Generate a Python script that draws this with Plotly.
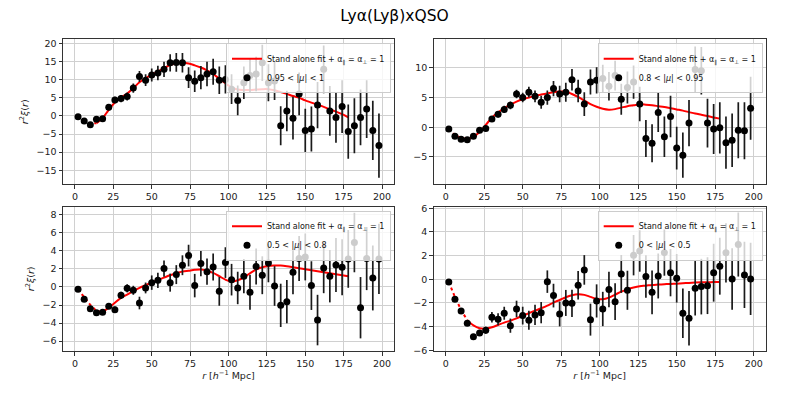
import plotly.graph_objects as go

R_DATA = list(range(2, 200, 4))
R_FIT = list(range(2, 180, 4))

# 0.95 < |mu| < 1
XI_MU1 = [-0.2, -1.4, -2.4, -0.9, -0.8, 2.4, 4.4, 4.8, 5.4, 7.7,
          10.9, 9.9, 11.3, 11.9, 12.9, 14.7, 14.8, 14.7, 10.6, 9.6,
          10.6, 11.6, 12.2, 9.9, 10.1, 7.4, 4.3, 9.2, 11.2, 11.6,
          14.7, 9.2, 9.7, -2.7, 1.4, -0.6, 6.1, -4.0, -3.6, 3.0,
          12.9, 1.4, -0.4, 2.6, -4.3, -2.7, -0.4, 1.9, -4.0, -8.2]
ERR_MU1 = [0.3, 0.4, 0.5, 0.6, 0.7, 0.8, 0.9, 1.0, 1.1, 1.3,
           1.5, 1.6, 1.8, 2.0, 2.1, 2.4, 2.6, 2.7, 2.9, 3.0,
           3.2, 3.4, 3.6, 3.8, 3.9, 4.1, 4.1, 4.5, 4.6, 4.8,
           5.0, 5.1, 5.3, 5.4, 5.6, 5.9, 5.9, 6.0, 6.2, 6.4,
           6.6, 6.9, 7.0, 7.3, 7.5, 7.6, 7.7, 8.0, 8.2, 8.9]
FIT_MU1 = [-0.2, -1.2, -2.1, -2.0, -0.6, 1.7, 3.7, 5.1, 6.2, 7.7,
           9.3, 10.4, 11.4, 12.3, 13.2, 14.1, 14.6, 14.7, 14.5, 14.0,
           13.4, 12.6, 11.6, 10.3, 9.0, 7.9, 7.3, 7.2, 7.2, 7.3,
           7.4, 7.4, 7.1, 6.6, 6.1, 5.5, 5.0, 4.3, 3.7, 3.1,
           2.5, 1.8, 1.2, 0.5, -0.4]

# 0.8 < |mu| < 0.95
XI_MU2 = [-0.3, -1.5, -2.0, -2.1, -1.5, -0.5, -0.2, 1.4, 2.2, 3.0,
          3.7, 5.6, 5.0, 5.9, 5.2, 4.2, 5.0, 6.5, 5.6, 5.9,
          8.0, 6.1, 3.9, 7.6, 7.9, 8.2, 6.9, 8.7, 4.7, 6.7,
          7.6, 3.9, -1.9, -2.7, 2.5, -1.6, 1.8, -3.5, -4.7, 0.7,
          9.7, 9.5, 0.7, -0.3, -0.1, -2.6, -2.2, -0.5, -0.6, 3.2]
ERR_MU2 = [0.15, 0.2, 0.25, 0.3, 0.35, 0.4, 0.45, 0.5, 0.55, 0.6,
           0.65, 0.7, 0.8, 0.9, 1.0, 1.1, 1.2, 1.3, 1.4, 1.6,
           1.8, 1.9, 2.0, 2.1, 2.2, 2.3, 2.4, 2.5, 2.6, 2.7,
           2.8, 2.9, 3.1, 3.2, 3.3, 3.4, 3.5, 3.6, 3.8, 3.9,
           3.9, 4.0, 4.1, 4.2, 4.3, 4.4, 4.5, 4.7, 4.8, 5.3]
FIT_MU2 = [-0.3, -1.3, -1.8, -2.0, -1.6, -0.8, 0.4, 1.6, 2.5, 3.2,
           3.8, 4.3, 4.7, 5.0, 5.3, 5.5, 5.7, 5.9, 6.0, 6.0,
           5.6, 5.1, 4.5, 3.9, 3.45, 3.1, 2.95, 3.05, 3.3, 3.55,
           3.7, 3.85, 3.8, 3.7, 3.55, 3.4, 3.2, 3.0, 2.8, 2.55,
           2.3, 2.1, 1.9, 1.65, 1.45]

# 0.5 < |mu| < 0.8
XI_MU3 = [-0.26, -1.37, -2.41, -2.85, -2.81, -2.15, -2.52, -0.93, -0.15, -0.37,
          -1.78, -0.11, 0.48, 0.74, 2.04, 0.48, 1.37, 2.41, 3.48, 0.15,
          2.6, 1.7, 2.22, -0.48, 2.7, 0.81, -0.11, 1.19, -0.59, 2.26,
          1.3, 2.67, 0.11, -2.04, -1.63, 1.63, 3.15, 3.33, 0.15, -3.67,
          2.11, 1.19, 2.44, 2.19, 3.11, 4.93, -2.3, 3.15, 1.0, 3.11]
ERR_MU3 = [0.1, 0.15, 0.2, 0.2, 0.25, 0.3, 0.35, 0.4, 0.45, 0.5,
           0.7, 0.6, 0.8, 0.85, 0.9, 1.0, 1.05, 1.1, 1.2, 1.3,
           1.4, 1.45, 1.5, 1.6, 1.7, 1.75, 1.8, 1.9, 1.95, 2.0,
           2.1, 2.15, 2.2, 2.4, 2.4, 2.45, 2.5, 2.6, 2.7, 2.8,
           2.8, 2.9, 3.0, 3.1, 3.2, 3.3, 3.4, 3.5, 3.6, 3.9]
FIT_MU3 = [-0.26, -1.1, -2.0, -2.65, -2.7, -2.3, -1.75, -1.2, -0.85, -0.44,
           -0.1, 0.2, 0.5, 0.78, 1.04, 1.3, 1.52, 1.7, 1.8, 1.9,
           1.93, 1.8, 1.56, 1.19, 0.81, 0.6, 0.74, 1.07, 1.52, 1.93,
           2.19, 2.33, 2.37, 2.37, 2.3, 2.19, 2.07, 1.96, 1.85, 1.74,
           1.63, 1.52, 1.41, 1.3, 1.19]

# 0 < |mu| < 0.5
XI_MU4 = [-0.23, -1.69, -2.68, -3.72, -4.85, -4.54, -4.31, -3.21, -3.38, -2.87,
          -3.92, -2.51, -3.07, -3.46, -3.01, -2.82, -0.2, -1.38, -2.93, -2.0,
          -2.03, -0.51, 0.79, -3.41, -1.83, -2.51, -0.87, -1.89, 0.45, -0.93,
          2.03, 2.39, 0.23, -1.1, 0.28, 2.25, 0.56, 0.08, -2.87, -3.3,
          -0.76, -0.62, -0.54, 0.56, 1.1, 2.23, 0.03, 2.93, 0.37, 0.03]
ERR_MU4 = [0.1, 0.12, 0.15, 0.18, 0.2, 0.25, 0.3, 0.45, 0.5, 0.55,
           0.6, 0.7, 0.75, 0.8, 0.85, 0.9, 0.95, 1.0, 1.05, 1.1,
           1.15, 1.2, 1.25, 1.35, 1.4, 1.45, 1.5, 1.55, 1.6, 1.65,
           1.7, 1.75, 1.8, 1.85, 1.9, 1.95, 2.0, 2.05, 2.1, 2.3,
           2.3, 2.35, 2.4, 2.45, 2.4, 2.5, 2.6, 2.7, 2.8, 3.05]
FIT_MU4 = [-0.23, -1.5, -2.6, -3.45, -3.9, -4.14, -4.17, -4.06, -3.86, -3.66,
           -3.5, -3.3, -3.07, -2.87, -2.65, -2.45, -2.23, -1.97, -1.75, -1.52,
           -1.35, -1.27, -1.32, -1.49, -1.66, -1.69, -1.55, -1.3, -1.04, -0.85,
           -0.7, -0.59, -0.54, -0.48, -0.45, -0.42, -0.39, -0.37, -0.34, -0.31,
           -0.28, -0.26, -0.25, -0.24, -0.23]

MU_LABELS = [
    "0.95 &lt; |<i>μ</i>| &lt; 1",
    "0.8 &lt; |<i>μ</i>| &lt; 0.95",
    "0.5 &lt; |<i>μ</i>| &lt; 0.8",
    "0 &lt; |<i>μ</i>| &lt; 0.5",
]
Y_RANGES = [[-18.9, 21.2], [-9.6, 14.8], [-7.1, 8.9], [-6.06, 6.13]]
Y_DTICKS = [5, 5, 2, 2]

FIT_LABEL = "Stand alone fit + α<sub>∥</sub> = α<sub>⊥</sub> = 1"
TITLE = "Lyα(Lyβ)xQSO"
X_TITLE = "<i>r</i> [<i>h</i><sup>−1</sup> Mpc]"
Y_TITLE = "<i>r</i><sup>2</sup><i>ξ</i>(<i>r</i>)"

W, H = 789, 395
FONT = "DejaVu Sans"
X_DOMAINS = [[63 / W, 394 / W], [433.7 / W, 765.7 / W]]
Y_DOMAINS = [[1 - 184.3 / H, 1 - 39.3 / H], [1 - 351 / H, 1 - 206.7 / H]]
DOT_END = 4  # first points of the model are drawn dotted

panels = [
    (XI_MU1, ERR_MU1, FIT_MU1),
    (XI_MU2, ERR_MU2, FIT_MU2),
    (XI_MU3, ERR_MU3, FIT_MU3),
    (XI_MU4, ERR_MU4, FIT_MU4),
]

label_font = dict(family=FONT, size=9.5, color="#222")
fig = go.Figure()
layout = {}

for i, (xi, err, fit) in enumerate(panels):
    n = i + 1
    row, col = divmod(i, 2)
    sfx = "" if n == 1 else str(n)
    leg = "legend" if n == 1 else f"legend{n}"

    fig.add_trace(go.Scatter(
        x=R_FIT[:DOT_END], y=fit[:DOT_END], mode="lines",
        line=dict(color="#ff0000", width=2, dash="dot"),
        showlegend=False, xaxis=f"x{sfx}", yaxis=f"y{sfx}",
    ))
    fig.add_trace(go.Scatter(
        x=R_FIT[DOT_END - 1:], y=fit[DOT_END - 1:], mode="lines",
        line=dict(color="#ff0000", width=2, shape="spline"),
        name=FIT_LABEL, legend=leg, xaxis=f"x{sfx}", yaxis=f"y{sfx}",
    ))
    fig.add_trace(go.Scatter(
        x=R_DATA, y=xi, mode="markers",
        marker=dict(color="black", size=7),
        error_y=dict(type="data", array=err, color="#1a1a1a", thickness=1.7, width=0),
        name=MU_LABELS[i], legend=leg, xaxis=f"x{sfx}", yaxis=f"y{sfx}",
    ))

    axis_common = dict(
        showline=True, mirror=True, linecolor="#333", linewidth=1,
        ticks="outside", ticklen=3.5, tickcolor="#333",
        showgrid=True, gridcolor="#d0d0d0", gridwidth=1, zeroline=False,
        tickfont=label_font, automargin=False,
    )
    xaxis = dict(
        axis_common, domain=X_DOMAINS[col], anchor=f"y{sfx}",
        range=[-7.8, 207.8], tick0=0, dtick=25,
    )
    if row == 1:
        xaxis["title"] = dict(text=X_TITLE, font=label_font, standoff=4)
    yaxis = dict(
        axis_common, domain=Y_DOMAINS[row], anchor=f"x{sfx}",
        range=Y_RANGES[i], tick0=0, dtick=Y_DTICKS[i],
    )
    if col == 0:
        yaxis["title"] = dict(text=Y_TITLE, font=label_font, standoff=6)
    layout[f"xaxis{sfx}"] = xaxis
    layout[f"yaxis{sfx}"] = yaxis
    layout[leg] = dict(
        x=X_DOMAINS[col][1] - 3 / W, xanchor="right",
        y=Y_DOMAINS[row][1] - 4 / H, yanchor="top",
        bgcolor="rgba(255,255,255,0.8)", bordercolor="#cccccc", borderwidth=1,
        font=dict(family=FONT, size=8, color="#111"),
        tracegroupgap=0, itemwidth=30,
    )

fig.update_layout(
    **layout,
    template="none",
    width=W, height=H,
    margin=dict(l=0, r=0, t=0, b=0),
    paper_bgcolor="white", plot_bgcolor="white",
    font=dict(family=FONT, color="#222"),
    title=dict(text=TITLE, x=0.5, xanchor="center", y=1 - 16 / H, yanchor="middle",
               font=dict(family=FONT, size=15.5, color="black")),
)

# the page body has an 8px default margin; drop it so the figure sits at 0,0
fig.write_html(
    "out.html",
    config={"displayModeBar": False},
    post_script="document.body.style.margin = '0';",
)
